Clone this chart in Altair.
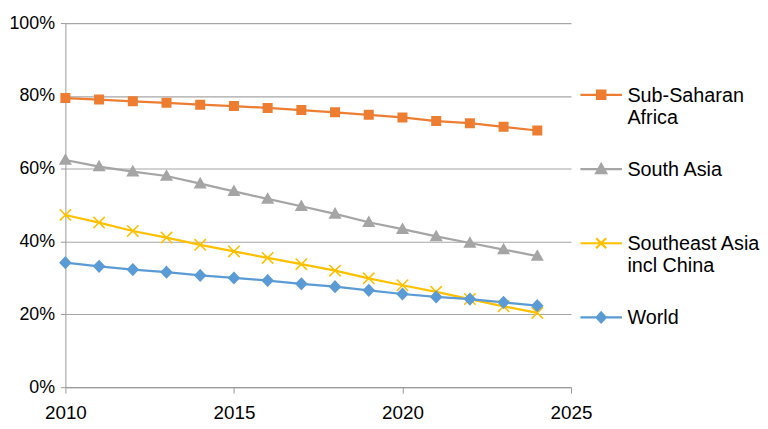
import altair as alt
import pandas as pd

years = list(range(2010, 2025))
series_names = ["Sub-Saharan Africa", "South Asia", "Southeast Asia incl China", "World"]
legend_lines = [["Sub-Saharan", "Africa"], ["South Asia", ""], ["Southeast Asia", "incl China"], ["World", ""]]
colors = ["#ED7D31", "#A5A5A5", "#FFC000", "#5B9BD5"]

ssa = [79.4, 79.0, 78.5, 78.1, 77.6, 77.2, 76.7, 76.1, 75.5, 74.8, 74.1, 73.1, 72.5, 71.5, 70.5]
south_asia = [62.4, 60.6, 59.2, 58.0, 55.9, 53.8, 51.7, 49.7, 47.6, 45.3, 43.4, 41.4, 39.6, 37.8, 36.0]
se_asia = [47.3, 45.2, 42.9, 41.1, 39.1, 37.3, 35.5, 33.8, 32.0, 29.9, 28.0, 26.2, 24.2, 22.2, 20.4]
world = [34.2, 33.2, 32.3, 31.6, 30.7, 30.0, 29.3, 28.4, 27.6, 26.6, 25.6, 24.8, 24.2, 23.3, 22.4]

x_ticks = [2010, 2015, 2020, 2025]
y_ticks = [0, 20, 40, 60, 80, 100]

rows = []
for name, vals in zip(series_names, [ssa, south_asia, se_asia, world]):
    for yr, v in zip(years, vals):
        rows.append({"year": yr, "share": v, "series": name})
df = pd.DataFrame(rows)

FONT = "Liberation Sans"

marker_paths = [
    "M-0.85,-0.85H0.85V0.85H-0.85Z",
    "M0,-1.05L1.05,0.8H-1.05Z",
    "M-1.15,-1.15L1.15,1.15M-1.15,1.15L1.15,-1.15",
    "M0,-1.1L1.05,0L0,1.1L-1.05,0Z",
]
legend_paths = [
    "M-1,-0.333H1M-0.2,-0.533H0.2V-0.133H-0.2Z",
    "M-1,-0.333H1M0,-0.57L0.24,-0.14H-0.24Z",
    "M-1,-0.333H1M-0.24,-0.573L0.24,-0.093M-0.24,-0.093L0.24,-0.573",
    "M-1,-0.333H1M0,-0.573L0.22,-0.333L0,-0.093L-0.22,-0.333Z",
]

label_expr = " : ".join(
    f"datum.label == '{n}' ? {lines}" for n, lines in zip(series_names, legend_lines)
) + " : [datum.label]"

x_enc = alt.X("year:Q", scale=alt.Scale(domain=[2010, 2025], nice=False, zero=False),
              axis=alt.Axis(values=x_ticks, format="d", title=None, grid=False, labelFlush=False,
                            tickSize=6, labelPadding=11, domainColor="#999999", tickColor="#999999",
                            labelFontSize=19, labelColor="#000000", labelFont=FONT))
y_enc = alt.Y("share:Q", scale=alt.Scale(domain=[0, 100], nice=False),
              axis=alt.Axis(values=y_ticks, labelExpr="datum.value + '%'", title=None,
                            grid=True, gridColor="#A6A6A6", gridWidth=1.2,
                            tickSize=5, labelPadding=6, domainColor="#999999", tickColor="#999999",
                            labelFontSize=18, labelColor="#000000", labelFont=FONT))

col_scale = alt.Scale(domain=series_names, range=colors)

lines = alt.Chart(df).mark_line(strokeWidth=2.25).encode(
    x=x_enc, y=y_enc,
    color=alt.Color("series:N", scale=col_scale, legend=None),
    order=alt.Order("year:Q"),
)

points = alt.Chart(df).mark_point(filled=True, opacity=1, strokeWidth=1.6).encode(
    x="year:Q", y="share:Q",
    fill=alt.Fill("series:N", scale=col_scale, legend=None),
    stroke=alt.Stroke("series:N", scale=col_scale, legend=None),
    shape=alt.Shape("series:N", scale=alt.Scale(domain=series_names, range=marker_paths), legend=None),
    size=alt.value(100),
)

leg = alt.Legend(
    title=None, orient="none", legendX=519, legendY=57, padding=0,
    labelExpr=label_expr, labelBaseline="alphabetic", labelFontSize=20, labelFont=FONT,
    labelColor="#000000", labelLimit=400, labelOffset=4, rowPadding=26,
    symbolStrokeWidth=2.25, symbolSize=1764, symbolOpacity=1,
)

legend_layer = alt.Chart(df).transform_filter("false").mark_point(
    filled=True, opacity=1, strokeWidth=2.25
).encode(
    x="year:Q", y="share:Q",
    shape=alt.Shape("series:N", scale=alt.Scale(domain=series_names, range=legend_paths), legend=leg),
    fill=alt.Fill("series:N", scale=col_scale, legend=leg),
    stroke=alt.Stroke("series:N", scale=col_scale, legend=leg),
)

chart = alt.layer(lines, points, legend_layer).resolve_scale(
    shape="independent", fill="independent", stroke="independent"
).properties(
    width=511, height=368,
    autosize=alt.AutoSizeParams(type="none"),
    padding={"left": 58, "top": 13, "right": 191, "bottom": 40},
).configure_view(stroke=None).configure_axis(labelFont=FONT)

chart.save("out.html", embed_options={"renderer": "svg", "actions": False})
